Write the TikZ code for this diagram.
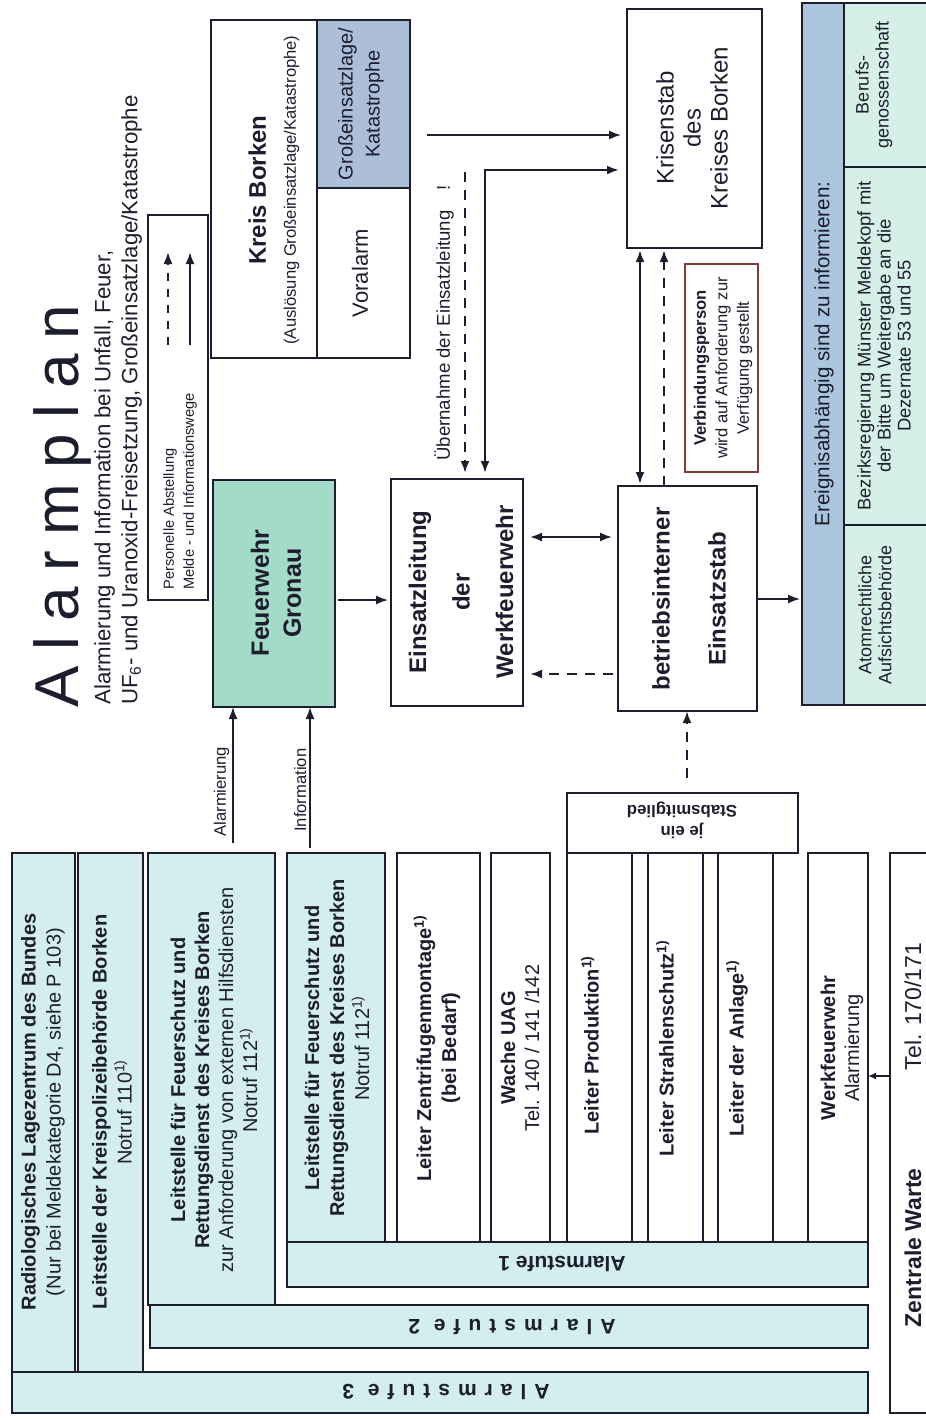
\documentclass[tikz,border=0pt]{standalone}
\usepackage{fontspec}
\usepackage{graphicx}
\setmainfont{Liberation Sans}
\newfontfamily\titlefont[LetterSpace=25]{Liberation Sans}
\newfontfamily\spacedfont[LetterSpace=38]{Liberation Sans}
\usetikzlibrary{arrows.meta}

\definecolor{palecyan}{RGB}{212,238,240}
\definecolor{palemint}{RGB}{214,240,232}
\definecolor{headblue}{RGB}{172,197,222}
\definecolor{grossblue}{RGB}{172,190,216}
\definecolor{gronaugreen}{RGB}{163,219,200}
\definecolor{inkblue}{RGB}{28,30,46}
\definecolor{verbred}{RGB}{130,60,60}

\newcommand{\fsz}[2]{\fontsize{#1}{#2}\selectfont}

\tikzset{
  box/.style={draw=inkblue, line width=0.9pt, inner sep=0pt, outer sep=0pt},
  thinbox/.style={box, line width=0.7pt},
  sz/.style 2 args={minimum width=#1*0.5pt, minimum height=#2*0.5pt},
  vt/.style={rotate=90, align=center, inner sep=0pt, text=inkblue},
  ut/.style={rotate=180, align=center, inner sep=0pt, text=inkblue},
  lbl/.style={font=\fsz{8.3}{10}, inner sep=1.5pt, text=inkblue},
  arr/.style={-{Latex[length=6pt,width=4.5pt]}, line width=0.8pt, draw=inkblue},
  arrb/.style={{Latex[length=6pt,width=4.5pt]}-{Latex[length=6pt,width=4.5pt]}, line width=0.9pt, draw=inkblue},
  darr/.style={-{Latex[length=6pt,width=4.5pt]}, line width=1.1pt, dash pattern=on 5pt off 4pt, draw=inkblue},
}

\begin{document}
\begin{tikzpicture}[x=0.5pt, y=-0.5pt]
\useasboundingbox (0,0) rectangle (926,1419);
%
% title
\node[rotate=90, anchor=base west, inner sep=0pt, text=inkblue, font=\titlefont\fsz{31}{31}] (title) at (78,708) {Alarmplan};
\node[rotate=90, anchor=north west, inner sep=0pt, align=left, text=inkblue, font=\fsz{11.1}{13.5}] (subtitle) at (94,705)
  {Alarmierung und Information bei Unfall, Feuer,\\UF\textsubscript{6}- und Uranoxid-Freisetzung, Großeinsatzlage/Katastrophe};
%
% legend
\node[box, sz={60}{385}] (legend) at (178,407.5) {};
\node[rotate=90, anchor=west, inner sep=0pt, align=left, text=inkblue, font=\fsz{7.3}{10}] (legtxt) at (180,590)
  {Personelle Abstellung\\Melde - und Informationswege};
\coordinate (lgA) at (168,345);
\coordinate (lgB) at (168,252);
\draw[darr, line width=0.9pt, dash pattern=on 4pt off 4pt] (lgA) -- (lgB);
\coordinate (lgC) at (190,345);
\coordinate (lgD) at (190,252);
\draw[arr, line width=1pt] (lgC) -- (lgD);
%
% Kreis Borken
\node[box, sz={106}{338}] (kreis) at (264,189) {};
\node[box, sz={93}{168}, fill=grossblue] (gross) at (363.5,104) {};
\node[box, sz={93}{170}] (voralarm) at (363.5,273) {};
\node[vt, font=\fsz{12}{15}] (kreisT) at (274,190) {\textbf{Kreis Borken}\\{\fsz{8.3}{10}(Auslösung Großeinsatzlage/Katastrophe)}};
\node[vt, font=\fsz{10}{13.5}] (grossT) at (361,104) {Großeinsatzlage/\\Katastrophe};
\node[vt, font=\fsz{11}{13}] (voralarmT) at (360,273) {Voralarm};
%
% main boxes
\node[box, sz={122}{227}, fill=gronaugreen] (gronau) at (274,593.5) {};
\node[vt, font=\bfseries\fsz{12.5}{16}] (gronauT) at (276,593) {Feuerwehr\\Gronau};
\node[box, sz={132}{227}] (einsatz) at (457,592.5) {};
\node[vt, font=\bfseries\fsz{12}{21.75}] (einsatzT) at (461,592) {Einsatzleitung\\der\\Werkfeuerwehr};
\node[box, sz={139}{225}] (betrieb) at (687.5,598.5) {};
\node[vt, font=\bfseries\fsz{12}{28}] (betriebT) at (689,599) {betriebsinterner\\Einsatzstab};
\node[box, sz={135}{239}] (krisen) at (694.5,128.5) {};
\node[vt, font=\fsz{12}{13.5}] (krisenT) at (692,128) {Krisenstab\\des\\Kreises Borken};
\node[box, sz={73}{208}, draw=verbred, line width=0.6pt] (verbind) at (721.5,368) {};
\node[vt, font=\fsz{8.3}{10.75}] (verbindT) at (723,368) {\textbf{Verbindungsperson}\\wird auf Anforderung zur\\Verfügung gestellt};
%
% Ereignis
\node[box, sz={42}{702}, fill=headblue] (ereig) at (823,354) {};
\node[thinbox, sz={86}{164}, fill=palemint] (berufs) at (887,85) {};
\node[thinbox, sz={86}{358}, fill=palemint] (bezirk) at (887,346) {};
\node[thinbox, sz={86}{180}, fill=palemint] (atom) at (887,615) {};
\node[vt, font=\fsz{10.3}{12}] (ereigT) at (824,354) {Ereignisabhängig sind zu informieren:};
\node[vt, font=\fsz{9}{10}] (berufsT) at (874,85) {Berufs-\\genossenschaft};
\node[vt, font=\fsz{9.2}{10}] (bezirkT) at (884,346) {Bezirksregierung Münster Meldekopf mit\\der Bitte um Weitergabe an die\\Dezernate 53 und 55};
\node[vt, font=\fsz{9}{10}] (atomT) at (875,615) {Atomrechtliche\\Aufsichtsbehörde};
%
% Stabsmitglied
\node[box, sz={231}{60}] (stab) at (682.5,823) {};
\node[ut, font=\fsz{8.4}{10.5}] (stabT) at (682,820) {\textbf{je ein}\\\textbf{Stabsmitglied}};
%
% columns
\node[thinbox, sz={63}{519}, fill=palecyan] (c1) at (43.5,1112.5) {};
\node[thinbox, sz={65}{519}, fill=palecyan] (c2) at (110.5,1112.5) {};
\node[thinbox, sz={127}{452}, fill=palecyan] (c3) at (211.5,1079) {};
\node[thinbox, sz={98}{389}, fill=palecyan] (c4) at (336,1047.5) {};
\node[thinbox, sz={83}{389}] (c5) at (438.5,1047.5) {};
\node[thinbox, sz={59}{389}] (c6) at (520.5,1047.5) {};
\node[thinbox, sz={65}{389}] (c7) at (599.5,1047.5) {};
\node[thinbox, sz={55}{389}] (c8) at (675.5,1047.5) {};
\node[thinbox, sz={55}{389}] (c9) at (745.5,1047.5) {};
\node[thinbox, sz={60}{389}] (c10) at (838,1047.5) {};
\node[vt, font=\fsz{10}{12.5}] (c1T) at (43,1112) {\textbf{Radiologisches Lagezentrum des Bundes}\\(Nur bei Meldekategorie D4, siehe P 103)};
\node[vt, font=\fsz{10}{12.5}] (c2T) at (112,1112) {\textbf{Leitstelle der Kreispolizeibehörde Borken}\\Notruf 110\textsuperscript{1)}};
\node[vt, font=\fsz{10}{12}] (c3T) at (214,1080) {\textbf{Leitstelle für Feuerschutz und}\\\textbf{Rettungsdienst des Kreises Borken}\\zur Anforderung von externen Hilfsdiensten\\Notruf 112\textsuperscript{1)}};
\node[vt, font=\fsz{10}{12.5}] (c4T) at (337,1048) {\textbf{Leitstelle für Feuerschutz und}\\\textbf{Rettungsdienst des Kreises Borken}\\Notruf 112\textsuperscript{1)}};
\node[vt, font=\fsz{10}{12.5}] (c5T) at (437,1048) {\textbf{Leiter Zentrifugenmontage\textsuperscript{1)}}\\\textbf{(bei Bedarf)}};
\node[vt, font=\fsz{10}{12}] (c6T) at (520,1048) {\textbf{Wache UAG}\\Tel. 140 / 141 /142};
\node[vt, font=\bfseries\fsz{10}{12}] (c7T) at (590,1045) {Leiter Produktion\textsuperscript{1)}};
\node[vt, font=\bfseries\fsz{10}{12}] (c8T) at (665,1048) {Leiter Strahlenschutz\textsuperscript{1)}};
\node[vt, font=\bfseries\fsz{10}{12}] (c9T) at (737,1048) {Leiter der Anlage\textsuperscript{1)}};
\node[vt, font=\fsz{10}{12}] (c10T) at (842,1048) {\textbf{Werkfeuerwehr}\\Alarmierung};
%
% Alarmstufen
\node[box, sz={581}{45}, fill=palecyan] (bar1) at (577.5,1264.5) {};
\node[box, sz={718}{43}, fill=palecyan] (bar2) at (509,1326.5) {};
\node[box, sz={856}{41}, fill=palecyan] (bar3) at (440,1392.5) {};
\node[ut, font=\fsz{10.5}{12}] (bar1T) at (562,1264) {\textbf{Alarmstufe 1}};
\node[ut, font=\spacedfont\fsz{10.5}{12}] (bar2T) at (508,1327) {\textbf{Alarmstufe 2}};
\node[ut, font=\spacedfont\fsz{10.5}{12}] (bar3T) at (442,1392) {\textbf{Alarmstufe 3}};
%
% Zentrale Warte
\node[box, sz={46}{560}] (zentrale) at (913,1133) {};
\node[vt, font=\fsz{11.5}{13}] (zentraleT) at (913,1135) {\textbf{Zentrale Warte}\hspace{49pt}Tel. 170/171};
%
% connectors
\draw[arr, shorten <=5pt] (233,0 |- c3.north) -- node[lbl, sloped, above, pos=0.42] (alarmLbl) {Alarmierung} (233,0 |- gronau.south);
\draw[arr, shorten <=2.5pt] (310,0 |- c4.north) -- node[lbl, sloped, above, pos=0.43] (infoLbl) {Information} (310,0 |- gronau.south);
\draw[arr, shorten <=1.5pt, shorten >=1.5pt] (gronau.east |- 0,600) -- (einsatz.west |- 0,600);
\draw[arr, shorten <=8.5pt, shorten >=3pt] (gross.east |- 0,135) -- (krisen.west |- 0,135);
\draw[arrb, line width=1.1pt, shorten <=3pt, shorten >=4pt] (485,0 |- einsatz.north) |- (krisen.west |- 0,170);
\coordinate (uebTop) at (465,172);
\draw[darr, shorten >=3pt] (uebTop) -- (uebTop |- einsatz.north);
\node[rotate=90, inner sep=0pt, text=inkblue, font=\fsz{9.3}{11}] (uebLbl) at (444,323) {Übernahme der Einsatzleitung\hspace{10pt}!};
\draw[arrb, shorten <=3.5pt, shorten >=3pt] (einsatz.east |- 0,537) -- (betrieb.west |- 0,537);
\draw[darr, shorten <=2.5pt, shorten >=3.5pt] (betrieb.west |- 0,674) -- (einsatz.east |- 0,674);
\draw[arrb, line width=1.1pt, shorten <=1pt, shorten >=1pt] (640,0 |- betrieb.north) -- (640,0 |- krisen.south);
\draw[darr, shorten >=1pt] (664,0 |- betrieb.north) -- (664,0 |- krisen.south);
\draw[arr, shorten >=1pt] (betrieb.east |- 0,599) -- (ereig.west |- 0,599);
\draw[darr, shorten <=7.5pt] (687,0 |- stab.north) -- (687,0 |- betrieb.south);
\draw[arr, -{Latex[length=4pt,width=3.5pt]}] (zentrale.west |- 0,1076) -- (c10.east |- 0,1076);
\end{tikzpicture}
\end{document}
